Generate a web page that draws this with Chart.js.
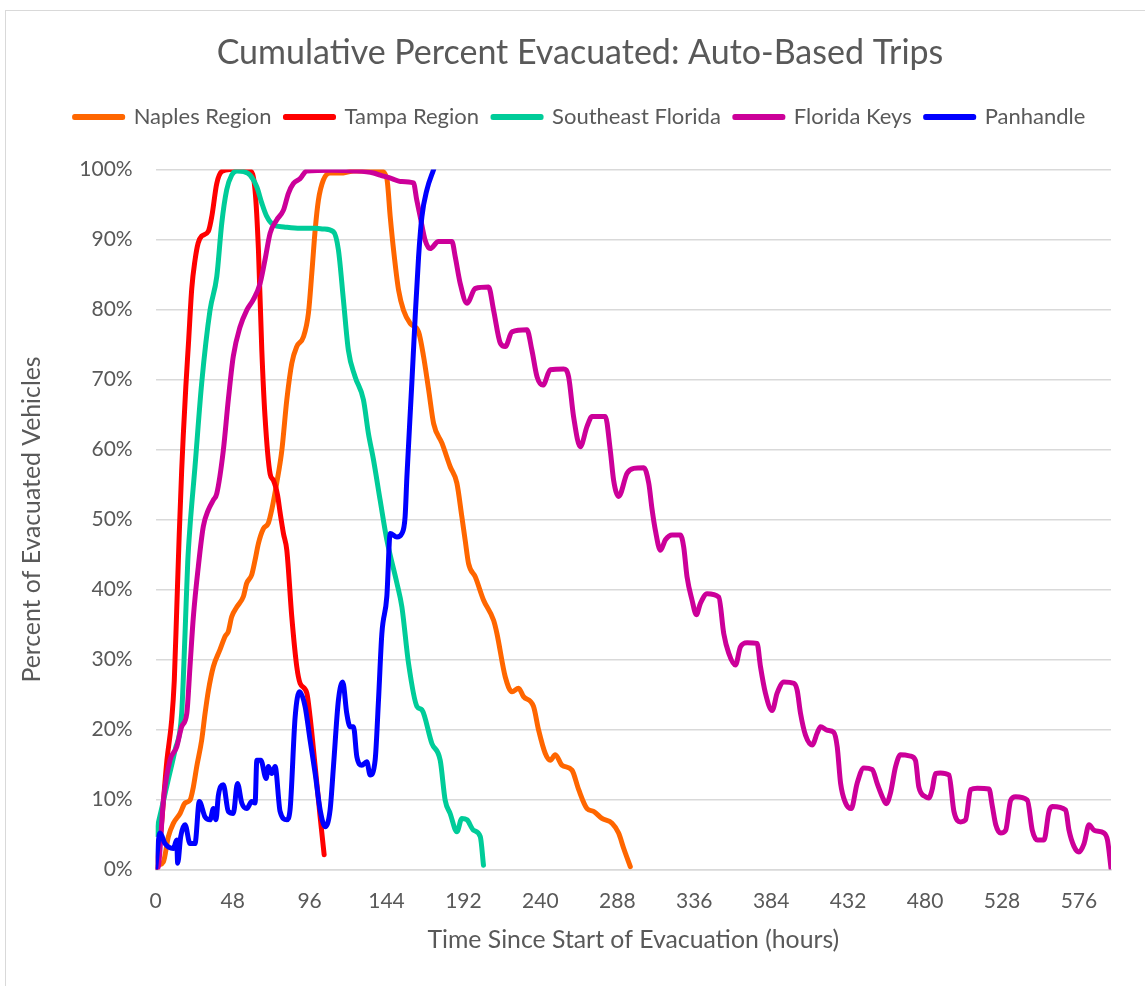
<!DOCTYPE html>
<html>
<head>
<meta charset="utf-8">
<script src="https://cdn.jsdelivr.net/npm/chart.js@4/dist/chart.umd.min.js"></script>
<style>
  html, body { margin: 0; padding: 0; background: #ffffff; }
  #wrap { position: relative; width: 1145px; height: 986px; overflow: hidden; }
  #frame { position: absolute; left: 5px; top: 10px; width: 1300px; height: 1200px; border: 1.5px solid #d9d9d9; box-sizing: border-box; }
  canvas { position: absolute; left: 0; top: 0; }
</style>
</head>
<body>
<div id="wrap">
  <div id="frame"></div>
  <canvas id="c" width="1145" height="986"></canvas>
</div>
<script>
const chartTitle = "Cumulative Percent Evacuated: Auto-Based Trips";
const xTitle = "Time Since Start of Evacuation (hours)";
const yTitle = "Percent of Evacuated Vehicles";
const seriesNames = ["Naples Region", "Tampa Region", "Southeast Florida", "Florida Keys", "Panhandle"];
const seriesColors = ["#FF6600", "#FF0000", "#00CC99", "#CC0099", "#0000FF"];
const xMax = 596;
const xStep = 48;

const naplesHours = [0,1.6,4.8,7.9,11,15.2,18.3,21.4,23.5,25.6,28.7,30.8,32.9,36,40.1,43.3,45.3,47.4,50.6,54.7,56.8,59.9,62,64.1,67.2,70.3,72.4,75.5,78.7,81.8,84.9,88,92.2,95.3,97.4,99.5,101.5,104.6,108.8,117.1,123.4,140,144.2,146.3,148.4,151.5,154.6,158.8,164,167.1,170.3,173.4,178.6,183.8,187.9,191,193.1,195.2,199.4,204.5,210.8,212.9,218.1,222.3,226.4,229.5,235.7,238.9,243,246.2,249.3,253.5,259.7,263.9,269.1,273.2,278.4,284.7,288.8,292,296.1];
const naplesPct = [0,0.6,1.1,4.7,6.6,8,9.5,9.9,11.8,14.7,18.5,22.3,25.6,29,31.4,33.3,34,36.1,37.5,39,40.9,42.1,44.2,46.6,48.7,49.5,51.4,55.2,59.9,67.1,72.3,74.7,76.1,79.5,85.2,91.4,95.6,98.5,99.5,99.5,99.8,99.8,98.7,93.3,88.5,82.8,79.9,78,76.8,73.3,68.5,63.7,60.9,57.5,55.2,50.4,47,43.7,41.8,38.5,35.6,33.7,27.5,25.4,25.9,24.7,23.3,19.9,16.6,15.6,16.4,14.9,14.2,11.4,8.7,8.3,7.3,6.6,5.2,3,0.4];

const tampaHours = [0,3,7,10,11.6,13.1,14.7,16.2,17.2,18.8,20.4,22.5,24.5,26.5,28.7,32.9,35,38.1,41.2,46.4,58.9,62,64.1,66.2,68.2,71.4,73.4,76,77.6,79.7,81.8,84.9,88,90.1,94.3,96.3,99.5,102.6,105.1];
const tampaPct = [0,5,15.6,21.4,27,37,48,57,62,69,75,83,87,89.5,90.5,91.2,93.3,98,99.7,100,99.8,97,88.5,74.2,64.7,56.5,55.6,53.5,51,48,45.6,36.1,29,26.6,25.2,21.8,14.7,7.5,2.1];

const southeastHours = [0,4,8,12,16.2,18.3,20,21.4,24.5,28.7,33.9,38.1,41.2,44.3,47.4,50.6,55,58.9,63.1,66.2,69.3,73.4,80,90.1,100,104.6,110.9,114,117.1,120.2,124.4,129.6,132.7,135.9,140,144.2,150.5,153.6,157.7,163,166.1,172.3,177.5,180.6,183.7,187.9,191,194.2,198.3,202.5,204.5];
const southeastPct = [5,9,13,17,22.3,33.7,44,49,57.5,69.5,79.9,84.7,92.3,97.1,99.2,99.8,99.7,99.2,97.5,95.2,93.3,92.1,91.8,91.6,91.6,91.5,91.1,88.5,81.4,74.2,70.4,67.1,62.3,58.5,52.8,47.1,40.9,37.5,29.5,23.3,22.8,18,15.6,9.9,8,5.4,7.3,7.1,5.6,4.7,0.6];

const keysHours = [0,1.6,4.8,8.9,13.1,16.2,19.4,21.4,23.5,26.6,29.7,32.9,36,38.1,42.2,45.3,48.4,52.6,56.8,60.9,65.1,68.2,71.4,75.5,79.7,82.8,85.9,90.1,94.3,110,123.4,135.9,140,147.3,152.5,160.8,162.9,165,168.1,171.2,176.4,184.8,186.9,190,194.2,199.4,207.7,210.8,215,218.1,222.3,231.6,234.7,237.9,241.6,246.2,254.5,257.6,260.7,264.9,269.1,272.2,280.5,283.6,285.7,288.8,294.1,298.2,304.5,307.6,309.7,311.7,314.9,318,322.2,327.3,329.4,331.5,334.6,337.3,339.8,344,351.3,354.4,357.5,361.7,364.8,369,375.2,377.3,380.4,384.6,387.7,391.9,398.1,400.2,402.3,405.4,409.6,412.7,414.8,419,423,425.2,427.3,430.4,433.9,437.6,441.8,447,450.1,453.3,455.8,458.4,461.6,464.7,470.9,474,476.1,480.2,482.3,484.4,486.5,489.6,494.9,498,502.2,505.3,508.4,512.6,519.9,522,524.1,527.2,530.3,533.4,536.5,543.8,546.9,550.1,554.2,557.3,559.4,567.7,569.8,572.9,576,579.2,582.3,585.4,591.7,593.8,596];
const keysPct = [0,0.4,9.9,15.6,17.5,20.4,22.3,29,36.1,43.3,49,51.4,52.8,53.7,59.9,67.1,73.3,77.5,79.9,81.4,83.7,87.1,90.9,92.8,94.2,96.6,98,98.7,99.8,99.9,99.8,99.5,99.2,98.7,98.3,98.1,95.6,93.3,89.9,88.7,89.7,89.7,87.5,83.7,80.9,83,83.2,79.9,75.2,74.7,76.8,77.1,74.2,70.4,69.2,71.4,71.5,70.4,64.7,60.4,63.3,64.7,64.7,59.9,55.6,53.3,56.6,57.3,57.4,55.2,51.4,48.5,45.6,47.1,47.8,47.8,46.1,41.8,38.5,36.4,38,39.4,38.9,33.7,30.9,29.2,31.8,32.4,32.3,29,25.2,22.7,25.2,26.8,26.6,25.6,22.3,19.2,17.8,19.5,20.4,19.9,19.6,17.5,12.3,9.5,8.7,12.3,14.5,14.3,12.3,10.4,9.4,10.9,14.7,16.4,16.2,15.6,11.8,10.4,10.2,11.4,13.7,13.8,13.5,8.3,6.8,7.1,11.4,11.6,11.5,9,6.4,5.2,5.6,9.9,10.4,9.9,5.6,4.2,4.2,8.3,9,8.5,5.6,3.3,2.5,3.7,6.4,5.6,5.2,4.2,0.2];

const panhandleHours = [0,2.7,5.8,11,13.1,13.7,15.6,18.3,21.4,24.5,27.2,30.8,33.9,36,37.6,39.1,42.2,45.3,48.4,51,53.7,56.8,59.9,62,63.1,65.6,68.9,70.3,72.4,74.5,77.6,81.8,83.8,87,89.7,93.2,96.3,99.5,102.6,105.7,108.8,110.9,114,116.7,119.2,121.3,123.4,125.5,128.6,131.7,133.8,136.9,139,141.1,144.2,146.3,150.5,153.6,155.6,156.7,159.8,161.9,164,166.1,169.2,173.4];
const panhandlePct = [0.2,5.2,3.7,3,4.2,0.9,4.7,6.4,3.7,3.7,9.7,7.5,7.1,8.7,7.1,10.6,12.1,8.3,8,12.3,9.5,8.7,9.7,9.5,15.6,15.6,13,14.7,13.7,14.7,8.3,7.1,8.5,21.8,25.4,23.3,18.5,13.7,8.5,6.1,8.5,14.7,24.2,26.8,22.3,20.4,20.4,16.1,14.9,15.4,13.5,15.6,24.2,33.7,39,48,47.5,48,50.4,56,69.5,79,87.5,93.3,97.1,100];

const seriesHours = [naplesHours, tampaHours, southeastHours, keysHours, panhandleHours];
const seriesPct = [naplesPct, tampaPct, southeastPct, keysPct, panhandlePct];

const textColor = "#595959";
const gridColor = "#d9d9d9";
const fontFamily = "Lato, 'Open Sans', sans-serif";

const datasets = seriesNames.map((name, i) => ({
  label: name,
  data: seriesHours[i].map((h, k) => ({ x: h, y: seriesPct[i][k] })),
  borderColor: seriesColors[i],
  backgroundColor: seriesColors[i],
  borderWidth: 5,
  pointRadius: 0,
  pointHoverRadius: 0,
  tension: 0.4,
  cubicInterpolationMode: 'monotone',
  borderJoinStyle: 'round',
  borderCapStyle: 'round',
  order: seriesNames.length - i,
  xAxisID: 'x',
  yAxisID: 'y'
}));

new Chart(document.getElementById('c'), {
  type: 'line',
  data: { datasets },
  options: {
    responsive: false,
    animation: false,
    devicePixelRatio: 1,
    layout: { padding: { left: 49, right: 34, top: 0, bottom: 0 } },
    plugins: {
      title: {
        display: true,
        text: chartTitle,
        color: textColor,
        font: { family: fontFamily, size: 34, weight: 'normal', lineHeight: 1.2 },
        padding: { top: 32.6, bottom: 18.6 }
      },
      legend: {
        display: true,
        position: 'top',
        labels: {
          color: textColor,
          font: { family: fontFamily, size: 22, lineHeight: 1.2 },
          boxWidth: 48,
          boxHeight: 1,
          padding: 14,
          sort: (a, b) => a.datasetIndex - b.datasetIndex
        }
      },
      tooltip: { enabled: false }
    },
    scales: {
      x: {
        type: 'linear',
        position: 'bottom',
        min: 0,
        max: xMax,
        afterFit: (s) => { s.height = 116.5; },
        grid: { display: false, drawTicks: false },
        border: { display: true, color: gridColor, width: 1.5 },
        ticks: {
          stepSize: xStep,
          includeBounds: false,
          autoSkip: false,
          maxRotation: 0,
          padding: 19.5,
          color: textColor,
          font: { family: fontFamily, size: 21 }
        },
        title: {
          display: true,
          text: xTitle,
          color: textColor,
          font: { family: fontFamily, size: 24.8, lineHeight: 1.2 },
          padding: { top: 0, bottom: 31.1 }
        }
      },
      xTop: {
        type: 'linear',
        position: 'top',
        display: true,
        min: 0,
        max: xMax,
        afterFit: (s) => { s.height = 31.5; },
        grid: { display: false, drawTicks: false },
        border: { display: false },
        ticks: { display: false }
      },
      y: {
        type: 'linear',
        position: 'left',
        min: 0,
        max: 100,
        afterFit: (s) => { s.width = 106.7; },
        grid: { color: gridColor, lineWidth: 1.5, drawTicks: false },
        border: { display: false },
        ticks: {
          stepSize: 10,
          padding: 23,
          color: textColor,
          font: { family: fontFamily, size: 21 },
          callback: (v) => v + '%'
        },
        title: {
          display: true,
          text: yTitle,
          color: textColor,
          font: { family: fontFamily, size: 24.8, lineHeight: 1.2 },
          padding: { top: -31.9, bottom: 0 }
        }
      }
    }
  }
});
</script>
</body>
</html>
